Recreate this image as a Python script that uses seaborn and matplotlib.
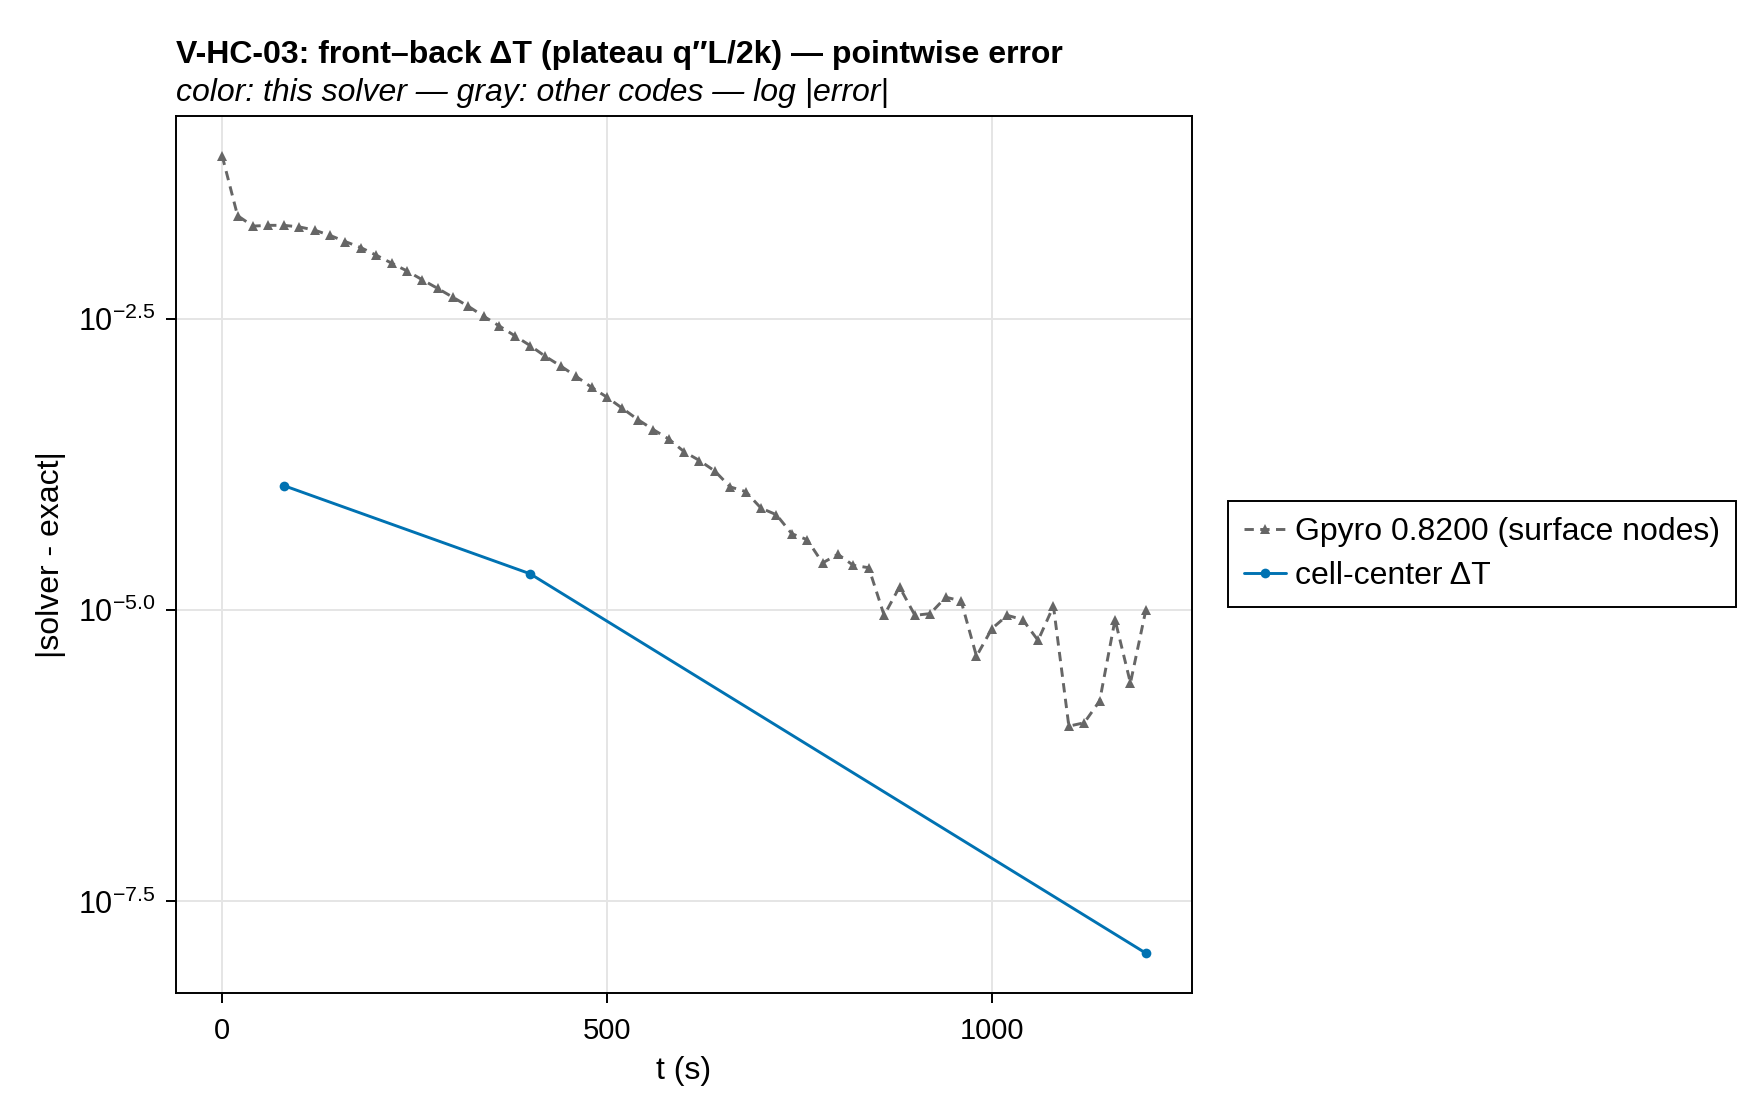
import numpy as np
import pandas as pd
import matplotlib
matplotlib.use("Agg")
import matplotlib.pyplot as plt
from matplotlib.ticker import FixedLocator, FuncFormatter, NullLocator
import seaborn as sns

# Gpyro surface-node error, sampled every 20 s
gpyro_t = [0, 20, 40, 60, 80, 100, 120, 140, 160, 180,
           200, 220, 240, 260, 280, 300, 320, 340, 360, 380,
           400, 420, 440, 460, 480, 500, 520, 540, 560, 580,
           600, 620, 640, 660, 680, 700, 720, 740, 760, 780,
           800, 820, 840, 860, 880, 900, 920, 940, 960, 980,
           1000, 1020, 1040, 1060, 1080, 1100, 1120, 1140, 1160, 1180,
           1200]
gpyro_err = [7.89e-2, 2.42e-2, 1.97e-2, 2.00e-2, 2.00e-2, 1.94e-2, 1.82e-2, 1.64e-2, 1.45e-2, 1.29e-2,
             1.11e-2, 9.48e-3, 8.13e-3, 6.82e-3, 5.75e-3, 4.82e-3, 4.03e-3, 3.31e-3, 2.74e-3, 2.26e-3,
             1.86e-3, 1.50e-3, 1.24e-3, 1.01e-3, 8.15e-4, 6.70e-4, 5.38e-4, 4.31e-4, 3.54e-4, 2.94e-4,
             2.29e-4, 1.92e-4, 1.56e-4, 1.14e-4, 1.04e-4, 7.50e-5, 6.58e-5, 4.52e-5, 4.02e-5, 2.54e-5,
             3.01e-5, 2.42e-5, 2.31e-5, 9.02e-6, 1.58e-5, 9.02e-6, 9.33e-6, 1.29e-5, 1.20e-5, 4.02e-6,
             6.93e-6, 9.02e-6, 8.28e-6, 5.50e-6, 1.08e-5, 1.01e-6, 1.08e-6, 1.66e-6, 8.28e-6, 2.37e-6,
             1.00e-5]

# this solver, cell-center dT
cell_t = [80, 400, 1200]
cell_err = [1.17e-4, 2.05e-5, 1.14e-8]

labels = ["Gpyro 0.8200 (surface nodes)", "cell-center \u0394T"]
ytick_exp = [-2.5, -5.0, -7.5]
xticks = [0, 500, 1000]

gray = "#666666"
blue = "#0072B2"

sns.set_style("ticks")
plt.rcParams["font.family"] = ["Liberation Sans", "DejaVu Sans"]
plt.rcParams["mathtext.fontset"] = "custom"
plt.rcParams["mathtext.rm"] = "Liberation Sans"
plt.rcParams["mathtext.it"] = "Liberation Sans:italic"
for k in ["text.color", "axes.labelcolor", "xtick.color", "ytick.color", "axes.edgecolor"]:
    plt.rcParams[k] = "black"

W, H = 1760, 1120
fig = plt.figure(figsize=(W / 100, H / 100), dpi=100)
fig.set_facecolor("white")
L, R, T, B = 176, 1192, 116, 993
ax = fig.add_axes([L / W, 1 - B / H, (R - L) / W, (B - T) / H])

gp = pd.DataFrame({"t": gpyro_t, "err": gpyro_err})
cc = pd.DataFrame({"t": cell_t, "err": cell_err})

sns.lineplot(data=gp, x="t", y="err", ax=ax, color=gray, lw=2.1,
             linestyle=(0, (3.2, 2.2)), marker="^", markersize=7.5,
             markeredgewidth=0, label=labels[0], estimator=None, sort=False, zorder=3)
sns.lineplot(data=cc, x="t", y="err", ax=ax, color=blue, lw=2.1,
             marker="o", markersize=7, markeredgewidth=0,
             label=labels[1], estimator=None, sort=False, zorder=4)

ax.set_yscale("log")
# Makie-style 5% margins
lo = np.log10(min(min(gpyro_err), min(cell_err)))
hi = np.log10(max(max(gpyro_err), max(cell_err)))
pad = 0.05 * (hi - lo)
ax.set_ylim(10 ** (lo - pad), 10 ** (hi + pad))
tmin, tmax = min(gpyro_t + cell_t), max(gpyro_t + cell_t)
tpad = 0.05 * (tmax - tmin)
ax.set_xlim(tmin - tpad, tmax + tpad)

ax.yaxis.set_major_locator(FixedLocator([10 ** e for e in ytick_exp]))
ax.yaxis.set_minor_locator(NullLocator())
ax.yaxis.set_major_formatter(FuncFormatter(lambda v, p: "$10^{%.1f}$" % np.log10(v)))
ax.set_xticks(xticks)
ax.set_xticklabels([str(x) for x in xticks])

ax.grid(True, color="#e5e5e5", lw=1.4, alpha=1)
ax.set_axisbelow(True)
for s in ax.spines.values():
    s.set_visible(True)
    s.set_linewidth(1.4)
    s.set_color("black")
ax.tick_params(axis="both", direction="out", length=7, width=1.4,
               labelsize=21, top=False, right=False)
ax.tick_params(axis="x", pad=10)
ax.tick_params(axis="y", pad=8, labelsize=22)

ax.set_xlabel("t (s)", fontsize=23, labelpad=8)
ax.set_ylabel("|solver - exact|", fontsize=23, labelpad=8)

fig.text(L / W, 1 - 55 / H, "V-HC-03: front\u2013back \u0394T (plateau q\u2033L/2k) \u2014 pointwise error",
         fontsize=23, fontweight="bold", ha="left", va="center")
fig.text(L / W, 1 - 93 / H, "color: this solver \u2014 gray: other codes \u2014 log |error|",
         fontsize=23, fontstyle="italic", ha="left", va="center")

handles, labs = ax.get_legend_handles_labels()
ax.get_legend().remove()
leg = fig.legend(handles, labs, loc="center left", bbox_to_anchor=(1228 / W, 1 - 554 / H),
                 fontsize=23, frameon=True, fancybox=False, framealpha=1,
                 edgecolor="black", handlelength=1.3, handletextpad=0.3,
                 labelspacing=0.45, borderpad=0.5, borderaxespad=0, numpoints=1)
leg.get_frame().set_linewidth(1.4)

fig.savefig("out.png", dpi=100)
